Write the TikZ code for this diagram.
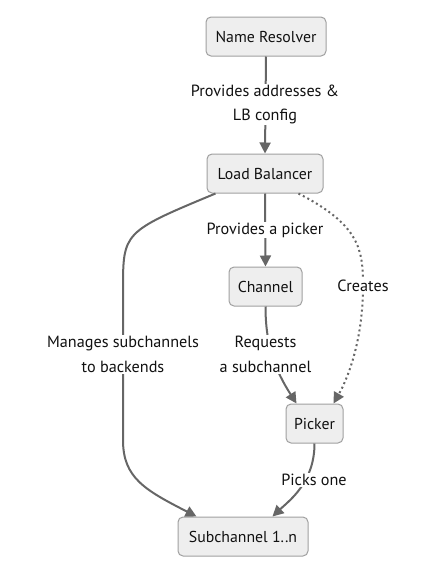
\documentclass[tikz,border=0pt]{standalone}
\usepackage{fontspec}
\setmainfont{PT Sans}
\usetikzlibrary{arrows.meta}
\definecolor{boxfill}{HTML}{EEEEEE}
\definecolor{boxline}{HTML}{A0A0A0}
\definecolor{edgecol}{HTML}{666666}
\definecolor{txt}{HTML}{111111}
\begin{document}
\begin{tikzpicture}[x=1pt,y=-1pt,
  box/.style={draw=boxline,fill=boxfill,line width=1pt,rounded corners=5pt,inner sep=0pt,
    minimum height=39pt,text=txt,font=\fontsize{15.8}{18}\selectfont},
  elabel/.style={fill=white,inner sep=1pt,text=txt,align=center,
    font=\fontsize{16.2}{24.5}\selectfont},
  edge/.style={draw=edgecol,line width=2pt,-{Triangle[length=11pt,width=11pt]}},
  dotedge/.style={edge,dash pattern=on 2pt off 3pt}]
\useasboundingbox (0,0) rectangle (443,579);
\node[box,minimum width=120pt] (nr) at (266,36.5) {Name Resolver};
\node[box,minimum width=116pt] (lb) at (265,173.5) {Load Balancer};
\node[box,minimum width=73pt] (ch) at (265.5,286.5) {Channel};
\node[box,minimum width=57pt] (pk) at (314.5,423.5) {Picker};
\node[box,minimum width=130pt] (sc) at (243,536.5) {Subchannel 1..n};
% edges
\draw[edge] (nr.south) -- (lb.north);
\draw[edge] (lb.south) -- (ch.north);
\draw[edge] ([xshift=9pt]lb.south west) .. controls (123,232) and (123,232) .. (123,290)
  -- (123,440) .. controls (123,478) and (145,490) .. ([xshift=19pt]sc.north west);
\draw[dotedge] ([xshift=-25pt]lb.south east) .. controls (360,225) and (363,250) .. (363,286)
  .. controls (363,340) and (348,378) .. ([xshift=-10pt]pk.north east);
\draw[edge] (ch.south) .. controls (265.5,345) and (275,370) .. ([xshift=11pt]pk.north west);
\draw[edge] (pk.south) .. controls (314.5,482) and (290,500) .. ([xshift=-36pt]sc.north east);
% labels
\node[elabel] (l1) at (265,104.5) {Provides addresses \&\\LB config};
\node[elabel] (l2) at (265,230) {Provides a picker};
\node[elabel] (l3) at (123,354.5) {Manages subchannels\\to backends};
\node[elabel] (l4) at (363,286) {Creates};
\node[elabel] (l5) at (265.5,354.5) {Requests\\a subchannel};
\node[elabel] (l6) at (314,480) {Picks one};
\end{tikzpicture}
\end{document}
